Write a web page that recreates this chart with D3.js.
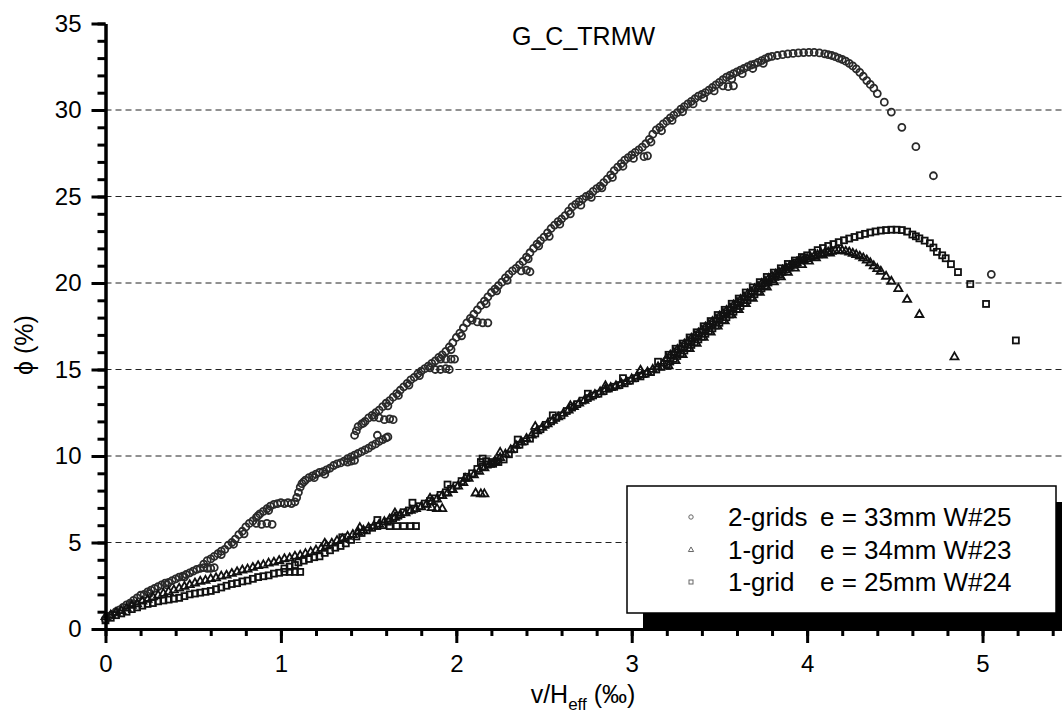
<!DOCTYPE html>
<html>
<head>
<meta charset="utf-8">
<script src="https://cdn.jsdelivr.net/npm/d3@7"></script>
<style>
  body { margin: 0; background: #fff; }
  svg { font-family: "Liberation Sans", Arial, sans-serif; }
  .axis path, .axis line { stroke: #000; stroke-width: 3; }
  .axis text { font-size: 24px; fill: #000; }
</style>
</head>
<body>
<svg width="1062" height="722"></svg>
<script>
// tick values
let xTicks = [0, 1, 2, 3, 4, 5]
let yTicks = [0, 5, 10, 15, 20, 25, 30, 35]
let gridLines = [5, 10, 15, 20, 25, 30]

// W#25, 2-grids (circles)  [v/Heff, phi]
let circlePts = [
  [0.00,0.55],[0.02,0.75],[0.04,0.85],[0.06,1.0],[0.08,1.1],[0.10,1.25],[0.12,1.4],[0.14,1.5],[0.16,1.65],[0.18,1.8],
  [0.20,1.95],[0.22,2.0],[0.24,2.15],[0.26,2.25],[0.28,2.35],[0.30,2.45],[0.32,2.55],[0.34,2.65],[0.36,2.7],[0.38,2.8],
  [0.40,2.9],[0.42,3.0],[0.44,3.05],[0.46,3.15],[0.48,3.25],[0.50,3.35],[0.52,3.45],[0.54,3.5],[0.56,3.55],[0.58,3.5],
  [0.60,3.5],[0.62,3.55],[0.56,3.75],[0.58,3.95],[0.60,4.05],[0.62,4.2],[0.64,4.35],[0.66,4.5],[0.68,4.6],[0.70,4.85],
  [0.72,5.0],[0.74,5.2],[0.76,5.45],[0.78,5.65],[0.80,5.9],[0.82,6.1],[0.84,6.25],[0.86,6.1],[0.89,6.05],[0.92,6.1],
  [0.95,6.05],[0.86,6.45],[0.88,6.65],[0.90,6.8],[0.92,6.95],[0.94,7.1],[0.96,7.2],[0.98,7.25],[1.00,7.3],[1.02,7.25],
  [1.04,7.3],[1.06,7.25],[1.08,7.35],[1.09,7.6],[1.10,7.9],[1.11,8.2],[1.12,8.4],[1.14,8.6],[1.16,8.75],[1.18,8.85],
  [1.20,8.95],[1.22,9.05],[1.24,9.1],[1.26,9.2],[1.28,9.3],[1.30,9.45],[1.32,9.55],[1.34,9.6],[1.36,9.7],[1.38,9.65],
  [1.40,9.7],[1.42,9.75],[1.38,9.85],[1.40,9.95],[1.42,10.05],[1.44,10.15],[1.46,10.25],[1.48,10.35],[1.50,10.45],[1.52,10.6],
  [1.54,10.7],[1.56,10.85],[1.58,10.95],[1.60,11.05],[1.61,11.1],[1.55,11.2],
  [1.42,11.2],[1.43,11.45],[1.44,11.7],[1.46,11.85],[1.48,12.0],[1.50,12.2],[1.52,12.35],[1.54,12.5],[1.56,12.2],[1.59,12.1],
  [1.62,12.15],[1.64,12.1],[1.56,12.65],[1.58,12.85],[1.60,13.05],[1.62,13.2],[1.64,13.4],[1.66,13.6],[1.68,13.8],[1.70,14.0],
  [1.72,14.2],[1.74,14.4],[1.76,14.55],[1.78,14.75],[1.80,14.9],[1.82,15.05],[1.84,15.2],[1.86,15.35],[1.88,15.5],[1.91,15.6],
  [1.94,15.6],[1.97,15.6],[1.99,15.6],[1.88,15.0],[1.91,15.0],[1.94,15.05],[1.96,15.0],[1.90,15.7],[1.92,15.85],[1.94,16.05],
  [1.96,16.3],[1.98,16.55],[2.00,16.85],[2.02,17.1],[2.04,17.4],[2.06,17.7],[2.08,17.95],[2.10,18.2],[2.12,18.45],[2.14,18.7],
  [2.12,17.75],[2.15,17.7],[2.18,17.7],[2.16,18.95],[2.18,19.2],[2.20,19.45],[2.22,19.65],[2.24,19.85],[2.26,20.05],[2.28,20.3],
  [2.30,20.5],[2.32,20.7],[2.34,20.85],[2.37,20.7],[2.40,20.75],[2.42,20.65],[2.36,21.05],[2.38,21.25],[2.40,21.5],[2.42,21.75],
  [2.44,22.0],[2.46,22.25],[2.48,22.45],[2.50,22.65],[2.52,22.9],[2.54,23.15],[2.56,23.35],[2.58,23.55],[2.60,23.7],[2.62,23.9],
  [2.64,24.15],[2.66,24.4],[2.68,24.55],[2.70,24.7],[2.72,24.85],[2.74,25.0],[2.76,25.1],[2.78,25.3],[2.80,25.45],[2.82,25.6],
  [2.84,25.8],[2.86,26.0],[2.88,26.25],[2.90,26.5],[2.92,26.7],[2.94,26.9],[2.96,27.1],[2.98,27.25],[3.00,27.4],[3.02,27.55],
  [3.04,27.7],[3.06,27.85],[3.07,27.3],[3.09,27.35],[3.08,28.05],[3.10,28.3],[3.12,28.6],[3.14,28.85],[3.16,29.0],[3.18,29.2],
  [3.20,29.35],[3.22,29.55],[3.24,29.7],[3.26,29.85],[3.28,30.05],[3.30,30.2],[3.32,30.35],[3.34,30.5],[3.36,30.65],[3.38,30.8],
  [3.40,30.9],[3.42,31.0],[3.44,31.15],[3.46,31.3],[3.48,31.45],[3.52,31.4],[3.55,31.35],[3.58,31.4],[3.50,31.6],[3.52,31.75],
  [3.54,31.9],[3.56,32.0],[3.58,32.1],[3.60,32.2],[3.62,32.3],[3.64,32.4],[3.66,32.5],[3.68,32.6],[3.70,32.65],[3.72,32.75],
  [3.74,32.85],[3.76,32.95],[3.78,33.05],[3.80,33.1],[3.83,33.15],[3.86,33.2],[3.89,33.25],[3.92,33.27],[3.95,33.3],[3.98,33.32],
  [4.01,33.33],[4.04,33.33],[4.07,33.3],[4.10,33.25],[4.12,33.2],[4.14,33.15],[4.16,33.08],[4.18,33.0],[4.20,32.92],[4.22,32.82],
  [4.24,32.7],[4.26,32.55],[4.28,32.38],[4.30,32.18],[4.32,31.95],[4.34,31.7],[4.36,31.48],[4.38,31.26],[4.40,30.95],[4.44,30.45],
  [4.48,29.88],[4.54,29.0],[4.62,27.88],[4.72,26.2],[5.05,20.5],
  // scatter on both sides of the main band
  [0.15,1.45],[0.25,2.05],[0.35,2.55],[0.45,3.0],[0.66,4.3],[0.73,4.9],[0.79,5.5],[0.87,6.55],[0.93,6.85],[1.13,8.5],
  [1.19,8.75],[1.25,8.95],[1.47,11.9],[1.53,12.25],[1.61,12.9],[1.67,13.5],[1.73,14.1],[1.79,14.65],[1.85,15.1],[1.97,16.15],
  [2.03,16.95],[2.09,17.85],[2.17,18.8],[2.23,19.55],[2.29,20.15],[2.41,21.4],[2.47,22.15],[2.53,22.7],[2.59,23.4],[2.65,24.0],
  [2.71,24.5],[2.77,24.95],[2.83,25.5],[2.89,26.1],[2.95,26.75],[3.01,27.2],[3.11,28.15],[3.17,28.8],[3.23,29.4],[3.29,29.9],
  [3.35,30.35],[3.41,30.7],[3.47,31.1],[3.57,31.8],[3.63,32.1],[3.69,32.4],[3.75,32.7]
]

// W#23, 1-grid e=34mm (triangles)
let trianglePts = [
  [0.00,0.7],[0.03,0.8],[0.06,0.95],[0.09,1.05],[0.12,1.2],[0.15,1.35],[0.18,1.45],[0.21,1.6],[0.24,1.7],[0.27,1.85],
  [0.30,1.95],[0.33,2.05],[0.36,2.15],[0.39,2.25],[0.42,2.35],[0.45,2.45],[0.48,2.55],[0.51,2.65],[0.54,2.75],[0.57,2.8],
  [0.60,2.9],[0.63,2.95],[0.66,3.05],[0.69,3.1],[0.72,3.2],[0.75,3.3],[0.78,3.4],[0.81,3.45],[0.84,3.55],[0.87,3.65],
  [0.90,3.7],[0.93,3.8],[0.96,3.85],[0.99,3.95],[1.02,4.05],[1.05,4.1],[1.08,4.2],[1.11,4.25],[1.14,4.35],[1.17,4.45],
  [1.20,4.55],[1.23,4.65],[1.26,4.8],[1.29,4.95],[1.32,5.1],[1.35,5.2],[1.38,5.35],[1.41,5.45],[1.44,5.6],[1.47,5.7],
  [1.50,5.85],[1.53,5.95],[1.56,6.05],[1.59,6.2],[1.62,6.35],[1.65,6.45],[1.68,6.6],[1.71,6.7],[1.74,6.85],[1.77,6.95],
  [1.80,7.05],[1.83,7.2],[1.86,7.0],[1.89,6.95],[1.92,6.95],[1.86,7.35],[1.89,7.5],[1.92,7.7],[1.95,7.85],[1.98,8.05],
  [2.01,8.25],[2.04,8.45],[2.07,8.7],[2.10,8.9],[2.11,7.85],[2.14,7.8],[2.16,7.8],[2.13,9.1],[2.16,9.3],[2.19,9.5],
  [2.22,9.7],[2.25,9.9],[2.28,10.1],[2.31,10.35],[2.34,10.6],[2.37,10.8],[2.40,11.0],[2.43,11.2],[2.46,11.45],[2.49,11.65],
  [2.52,11.85],[2.55,12.05],[2.58,12.25],[2.61,12.45],[2.64,12.65],[2.67,12.85],[2.70,13.05],[2.73,13.2],[2.76,13.4],[2.79,13.55],
  [2.82,13.7],[2.85,13.85],[2.88,13.95],[2.91,14.05],[2.94,14.2],[2.97,14.3],[3.00,14.45],[3.03,14.6],[3.06,14.7],[3.09,14.85],
  [3.12,15.0],[3.15,15.15],[3.18,15.35],[3.20,15.65],[3.22,15.82],[3.24,15.98],[3.26,16.15],[3.28,16.3],[3.30,16.47],[3.32,16.63],
  [3.34,16.8],[3.36,16.95],[3.38,17.1],[3.40,17.28],[3.42,17.45],[3.44,17.6],[3.46,17.76],[3.48,17.92],[3.50,18.08],[3.52,18.24],
  [3.54,18.4],[3.56,18.56],[3.58,18.72],[3.60,18.88],[3.62,19.03],[3.64,19.2],[3.66,19.35],[3.68,19.5],[3.70,19.66],[3.72,19.8],
  [3.74,19.96],[3.76,20.1],[3.78,20.25],[3.80,20.38],[3.82,20.5],[3.84,20.62],[3.86,20.74],[3.88,20.86],[3.90,20.97],[3.92,21.07],
  [3.94,21.16],[3.96,21.25],[3.98,21.33],[4.00,21.4],[4.02,21.48],[4.04,21.55],[4.06,21.62],[4.08,21.68],[4.10,21.73],[4.12,21.78],
  [4.14,21.82],[4.16,21.85],[4.18,21.87],[4.20,21.87],[4.22,21.83],[4.24,21.78],[4.26,21.71],[4.28,21.63],[4.30,21.54],[4.32,21.44],
  [4.34,21.32],[4.36,21.16],[4.38,20.98],[4.40,20.82],[4.42,20.67],[4.45,20.38],[4.48,20.09],[4.52,19.67],[4.57,19.04],[4.64,18.17],
  [4.84,15.72],
  // lower edge of the dense band
  [3.21,15.2],[3.25,15.5],[3.29,15.85],[3.33,16.2],[3.37,16.5],[3.41,16.85],[3.45,17.15],[3.49,17.5],[3.53,17.8],[3.57,18.15],
  [3.61,18.45],[3.65,18.8],[3.69,19.1],[3.73,19.45],[3.77,19.75],[3.81,20.05],[3.85,20.35],[3.89,20.6],[3.93,20.85],[3.97,21.05],
  [4.01,21.25],[4.05,21.45],[4.09,21.6],[4.13,21.72],
  [1.25,4.95],[1.45,5.85],[1.65,6.7],[1.85,7.55],[2.05,8.7],[2.25,10.2],[2.45,11.7],[2.65,12.9],[2.85,14.05],[3.05,14.95]
]

// W#24, 1-grid e=25mm (squares)
let squarePts = [
  [0.00,0.5],[0.03,0.65],[0.06,0.8],[0.09,0.9],[0.12,1.0],[0.15,1.15],[0.18,1.25],[0.21,1.35],[0.24,1.45],[0.27,1.5],
  [0.30,1.6],[0.33,1.65],[0.36,1.7],[0.39,1.75],[0.42,1.8],[0.45,1.9],[0.48,2.0],[0.51,2.05],[0.54,2.1],[0.57,2.15],
  [0.60,2.2],[0.63,2.3],[0.66,2.4],[0.69,2.5],[0.72,2.6],[0.75,2.65],[0.78,2.75],[0.81,2.8],[0.84,2.9],[0.87,3.0],
  [0.90,3.05],[0.93,3.1],[0.96,3.2],[0.99,3.25],[1.02,3.3],[1.05,3.3],[1.08,3.3],[1.11,3.3],[1.02,3.5],[1.05,3.6],
  [1.08,3.7],[1.10,3.85],[1.13,3.95],[1.16,4.05],[1.19,4.15],[1.22,4.2],[1.25,4.4],[1.28,4.55],[1.31,4.7],[1.34,4.8],
  [1.37,4.95],[1.40,5.15],[1.43,5.35],[1.46,5.55],[1.49,5.7],[1.52,5.85],[1.55,5.95],[1.58,6.0],[1.62,5.95],[1.66,5.95],
  [1.70,5.95],[1.74,5.95],[1.77,5.95],[1.61,6.2],[1.64,6.4],[1.67,6.55],[1.70,6.75],[1.73,6.85],[1.76,6.95],[1.79,7.1],
  [1.82,7.25],[1.85,7.4],[1.88,7.55],[1.91,7.75],[1.94,7.9],[1.97,8.1],[2.00,8.3],[2.03,8.55],[2.06,8.8],[2.09,9.0],
  [2.12,9.25],[2.14,9.65],[2.17,9.7],[2.20,9.65],[2.23,9.7],[2.15,9.4],[2.18,9.5],[2.21,9.55],[2.24,9.65],[2.27,9.8],
  [2.30,10.1],[2.33,10.4],[2.36,10.65],[2.39,10.85],[2.42,11.0],[2.45,11.3],[2.48,11.55],[2.51,11.8],[2.54,12.0],[2.57,12.2],
  [2.60,12.35],[2.63,12.6],[2.66,12.8],[2.69,13.0],[2.72,13.2],[2.75,13.35],[2.78,13.5],[2.81,13.6],[2.84,13.75],[2.87,13.9],
  [2.90,14.0],[2.93,14.1],[2.96,14.2],[2.99,14.35],[3.02,14.5],[3.05,14.6],[3.08,14.75],[3.11,14.85],[3.14,15.0],[3.17,15.15],
  [3.20,15.3],[3.22,15.46],[3.24,15.62],[3.26,15.78],[3.28,15.94],[3.30,16.1],[3.32,16.26],[3.34,16.42],[3.36,16.58],[3.38,16.74],
  [3.40,16.9],[3.42,17.06],[3.44,17.22],[3.46,17.38],[3.48,17.54],[3.50,17.7],[3.52,17.86],[3.54,18.02],[3.56,18.18],[3.58,18.34],
  [3.60,18.5],[3.62,18.67],[3.64,18.84],[3.66,19.01],[3.68,19.18],[3.70,19.35],[3.72,19.52],[3.74,19.69],[3.76,19.86],[3.78,20.03],
  [3.80,20.2],[3.82,20.35],[3.84,20.5],[3.86,20.64],[3.88,20.78],[3.90,20.9],[3.92,21.05],[3.94,21.18],[3.96,21.32],[3.98,21.46],
  [4.00,21.6],[4.03,21.75],[4.06,21.9],[4.09,22.02],[4.12,22.14],[4.15,22.25],[4.18,22.36],[4.21,22.47],[4.24,22.57],[4.27,22.66],
  [4.30,22.76],[4.33,22.84],[4.36,22.92],[4.39,22.98],[4.42,23.03],[4.45,23.06],[4.48,23.08],[4.51,23.08],[4.54,23.06],[4.57,22.97],
  [4.60,22.8],[4.62,22.7],[4.64,22.58],[4.67,22.45],[4.70,22.3],[4.72,22.05],[4.74,21.8],[4.77,21.6],[4.79,21.43],[4.82,21.09],
  [4.86,20.63],[4.93,19.94],[5.02,18.79],[5.19,16.68],
  // upper edge of the dense band
  [3.21,15.85],[3.25,16.2],[3.29,16.5],[3.33,16.85],[3.37,17.15],[3.41,17.5],[3.45,17.8],[3.49,18.15],[3.53,18.45],[3.57,18.8],
  [3.61,19.1],[3.65,19.45],[3.69,19.75],[3.73,20.05],[3.77,20.35],[3.81,20.6],[3.85,20.85],[3.89,21.1],[3.93,21.3],[3.97,21.5],
  [1.35,5.3],[1.55,6.3],[1.75,7.3],[1.95,8.35],[2.15,9.85],[2.35,10.95],[2.55,12.35],[2.75,13.6],[2.95,14.5],[3.15,15.45]
]

let legendNames = ['2-grids', '1-grid', '1-grid']
let legendSpecs = ['e = 33mm W#25', 'e = 34mm W#23', 'e = 25mm W#24']

let svg = d3.select('svg')

let x = d3.scaleLinear().domain([0, 5.453]).range([105.5, 1062])
let y = d3.scaleLinear().domain([0, 35]).range([629, 23.5])

// dashed grid
svg.append('g').selectAll('line')
    .data(gridLines)
    .enter()
    .append('line')
    .attr('x1', x(0)).attr('x2', x(5.453))
    .attr('y1', d => y(d)).attr('y2', d => y(d))
    .attr('stroke', '#222')
    .attr('stroke-width', 1)
    .attr('stroke-dasharray', '6,4')

let markerColor = '#111'

// circles
svg.append('g').selectAll('circle')
    .data(circlePts)
    .enter()
    .append('circle')
    .attr('cx', d => x(d[0]))
    .attr('cy', d => y(d[1]))
    .attr('r', 3.5)
    .attr('fill', 'none')
    .attr('stroke', '#2a2a2a')
    .attr('stroke-width', 1.8)

// triangles
let tri = d3.symbol().type(d3.symbolTriangle).size(28)
svg.append('g').selectAll('path')
    .data(trianglePts)
    .enter()
    .append('path')
    .attr('d', tri)
    .attr('transform', d => 'translate(' + x(d[0]) + ',' + y(d[1]) + ')')
    .attr('fill', 'none')
    .attr('stroke', markerColor)
    .attr('stroke-width', 1.8)

// squares
svg.append('g').selectAll('rect')
    .data(squarePts)
    .enter()
    .append('rect')
    .attr('x', d => x(d[0]) - 3)
    .attr('y', d => y(d[1]) - 3)
    .attr('width', 6)
    .attr('height', 6)
    .attr('fill', 'none')
    .attr('stroke', markerColor)
    .attr('stroke-width', 1.8)

// legend with drop shadow
let lg = svg.append('g')
lg.append('rect')
    .attr('x', 643).attr('y', 502).attr('width', 440).attr('height', 127)
    .attr('fill', '#000')
lg.append('rect')
    .attr('x', 627).attr('y', 486).attr('width', 429).attr('height', 127)
    .attr('fill', '#fff').attr('stroke', '#000').attr('stroke-width', 1.5)

let rowY = [517, 550, 582]
lg.append('circle').attr('cx', 691).attr('cy', rowY[0]).attr('r', 2.2)
    .attr('fill', 'none').attr('stroke', '#666')
lg.append('path').attr('d', d3.symbol().type(d3.symbolTriangle).size(12))
    .attr('transform', 'translate(691,' + rowY[1] + ')')
    .attr('fill', 'none').attr('stroke', '#666')
lg.append('rect').attr('x', 689).attr('y', rowY[2] - 2).attr('width', 4).attr('height', 4)
    .attr('fill', 'none').attr('stroke', '#666')

lg.selectAll('.lname')
    .data(legendNames)
    .enter()
    .append('text')
    .attr('x', 728)
    .attr('y', (d, i) => rowY[i] + 9)
    .attr('font-size', 26)
    .text(d => d)
lg.selectAll('.lspec')
    .data(legendSpecs)
    .enter()
    .append('text')
    .attr('x', 820)
    .attr('y', (d, i) => rowY[i] + 9)
    .attr('font-size', 26)
    .text(d => d)

// axes
svg.append('g').attr('class', 'axis')
    .attr('transform', 'translate(' + x(0) + ',0)')
    .call(d3.axisLeft(y).tickValues(yTicks).tickSize(14).tickSizeOuter(0).tickPadding(10))
svg.append('g').attr('class', 'axis')
    .attr('transform', 'translate(' + x(0) + ',0)')
    .call(d3.axisLeft(y).tickValues(d3.range(0, 36, 1)).tickSize(8).tickSizeOuter(0).tickFormat(''))

svg.append('g').attr('class', 'axis')
    .attr('transform', 'translate(0,' + y(0) + ')')
    .call(d3.axisBottom(x).tickValues(xTicks).tickSize(14).tickSizeOuter(0).tickPadding(12).tickFormat(d3.format('d')))
svg.append('g').attr('class', 'axis')
    .attr('transform', 'translate(0,' + y(0) + ')')
    .call(d3.axisBottom(x).tickValues(d3.range(0, 5.41, 0.2)).tickSize(7).tickSizeOuter(0).tickFormat(''))

// titles
svg.append('text')
    .attr('x', 512).attr('y', 45)
    .attr('font-size', 25)
    .text('G_C_TRMW')

svg.append('text')
    .attr('transform', 'translate(33,345) rotate(-90)')
    .attr('text-anchor', 'middle')
    .attr('font-size', 25)
    .text('ϕ (%)')

let xl = svg.append('text')
    .attr('x', 583).attr('y', 703)
    .attr('text-anchor', 'middle')
    .attr('font-size', 25)
xl.append('tspan').text('v/H')
xl.append('tspan').attr('font-size', 17).attr('dy', 7).text('eff')
xl.append('tspan').attr('dy', -7).text(' (‰)')
</script>
</body>
</html>
